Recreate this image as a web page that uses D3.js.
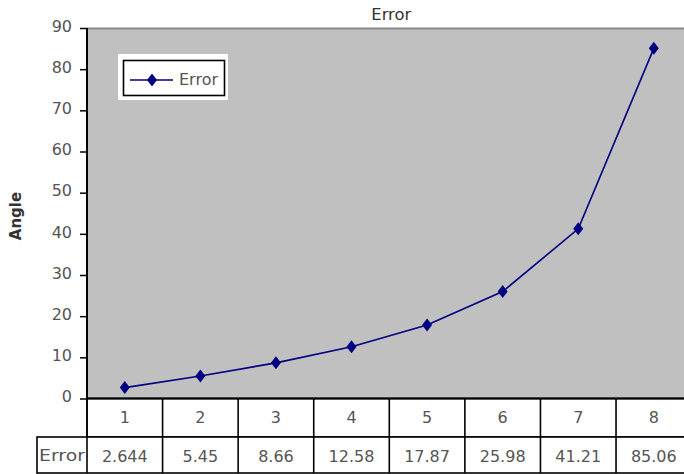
<!DOCTYPE html>
<html><head><meta charset="utf-8">
<script src="https://cdn.jsdelivr.net/npm/d3@7"></script>
<style>body{margin:0;background:#fff}svg{display:block}text{font-family:"DejaVu Sans",Verdana,sans-serif}</style>
</head><body>
<script>
const categories = ["1","2","3","4","5","6","7","8"];
const errorValues = [2.644, 5.45, 8.66, 12.58, 17.87, 25.98, 41.21, 85.06];
const yTicks = [0,10,20,30,40,50,60,70,80,90];
const seriesName = "Error";

(function(){
const W = 684, H = 474;
const pL = 87, pR = 691.6, pT = 28, pB = 398.5;
const FF = "DejaVu Sans, Verdana, sans-serif";
const svg = d3.select("body").append("svg").attr("width", W).attr("height", H);

const x = d3.scaleBand().domain(categories).range([pL, pR]).padding(0);
const y = d3.scaleLinear().domain([0, 90]).range([pB, pT]);

// plot area
svg.append("rect").attr("x", pL).attr("y", pT).attr("width", pR - pL).attr("height", pB - pT)
  .attr("fill", "#c0c0c0");
svg.append("line").attr("x1", pL).attr("x2", pR).attr("y1", pT + 0.5).attr("y2", pT + 0.5)
  .attr("stroke", "#8a8a8a").attr("stroke-width", 2);

// y axis
const yAxis = svg.append("g").attr("transform", `translate(${pL},0)`)
  .call(d3.axisLeft(y).tickValues(yTicks).tickSize(7).tickPadding(8));
yAxis.attr("font-family", FF).attr("font-size", 16);
yAxis.select(".domain").attr("stroke", "#000").attr("stroke-width", 2).attr("d", `M0,${pT}V${pB}`);
yAxis.selectAll(".tick line").attr("stroke", "#000").attr("stroke-width", 1.5);
yAxis.selectAll(".tick text").attr("fill", "#555").attr("dy", "0.2em");

// title
svg.append("text").attr("x", (pL + pR) / 2 + 2).attr("y", 20).attr("text-anchor", "middle")
  .attr("font-size", 15).attr("fill", "#333").attr("textLength", 40).attr("lengthAdjust", "spacingAndGlyphs")
  .text(seriesName);

// y label
svg.append("text").attr("transform", `translate(21,216) rotate(-90)`).attr("text-anchor", "middle")
  .attr("font-size", 15).attr("font-weight", "bold").attr("fill", "#333").text("Angle");

// line
const line = d3.line().x((d, i) => x(categories[i]) + x.bandwidth() / 2).y(d => y(d));
svg.append("path").datum(errorValues).attr("d", line).attr("fill", "none")
  .attr("stroke", "#000080").attr("stroke-width", 1.6);
svg.selectAll(".pt").data(errorValues).join("path").attr("class", "pt")
  .attr("transform", (d, i) => `translate(${x(categories[i]) + x.bandwidth() / 2},${y(d)})`)
  .attr("d", "M0,-6.5L5,0L0,6.5L-5,0Z").attr("fill", "#000080");

// data table
const row1 = [pB, 437], row2 = [437, 473];
const tbl = svg.append("g").attr("stroke", "#000").attr("stroke-width", 1.6).attr("fill", "none");
tbl.append("rect").attr("x", pL).attr("y", row1[0]).attr("width", pR - pL).attr("height", row1[1] - row1[0]).attr("fill", "#fff");
tbl.append("rect").attr("x", 37).attr("y", row2[0]).attr("width", pR - 37).attr("height", row2[1] - row2[0]).attr("fill", "#fff");
categories.forEach((c, i) => {
  if (i > 0) tbl.append("line").attr("x1", x(c)).attr("x2", x(c)).attr("y1", row1[0]).attr("y2", row2[1]);
});
tbl.append("line").attr("x1", pL).attr("x2", pL).attr("y1", row1[0]).attr("y2", row2[1]);
svg.append("line").attr("x1", pL).attr("x2", pR).attr("y1", pB).attr("y2", pB).attr("stroke", "#000").attr("stroke-width", 2);

svg.selectAll(".cat").data(categories).join("text").attr("class", "cat")
  .attr("x", d => x(d) + x.bandwidth() / 2).attr("y", 423).attr("text-anchor", "middle")
  .attr("font-size", 16).attr("fill", "#555").text(d => d);
svg.selectAll(".val").data(errorValues).join("text").attr("class", "val")
  .attr("x", (d, i) => x(categories[i]) + x.bandwidth() / 2).attr("y", 462).attr("text-anchor", "middle")
  .attr("font-size", 16).attr("fill", "#555").text(d => d);
svg.append("text").attr("x", 39).attr("y", 461).attr("font-size", 15).attr("fill", "#555")
  .attr("textLength", 46).attr("lengthAdjust", "spacingAndGlyphs").text(seriesName);

// legend
svg.append("rect").attr("x", 118).attr("y", 54).attr("width", 110).attr("height", 46).attr("fill", "#fff");
svg.append("rect").attr("x", 123.5).attr("y", 60.5).attr("width", 101).attr("height", 35).attr("fill", "#fff")
  .attr("stroke", "#000").attr("stroke-width", 1.6);
svg.append("line").attr("x1", 130).attr("x2", 173).attr("y1", 80).attr("y2", 80).attr("stroke", "#000080").attr("stroke-width", 1.6);
svg.append("path").attr("transform", "translate(152,80)").attr("d", "M0,-6.5L5,0L0,6.5L-5,0Z").attr("fill", "#000080");
svg.append("text").attr("x", 179).attr("y", 85).attr("font-size", 15).attr("fill", "#555")
  .attr("textLength", 39).attr("lengthAdjust", "spacingAndGlyphs").text(seriesName);
})();
</script>
</body></html>
